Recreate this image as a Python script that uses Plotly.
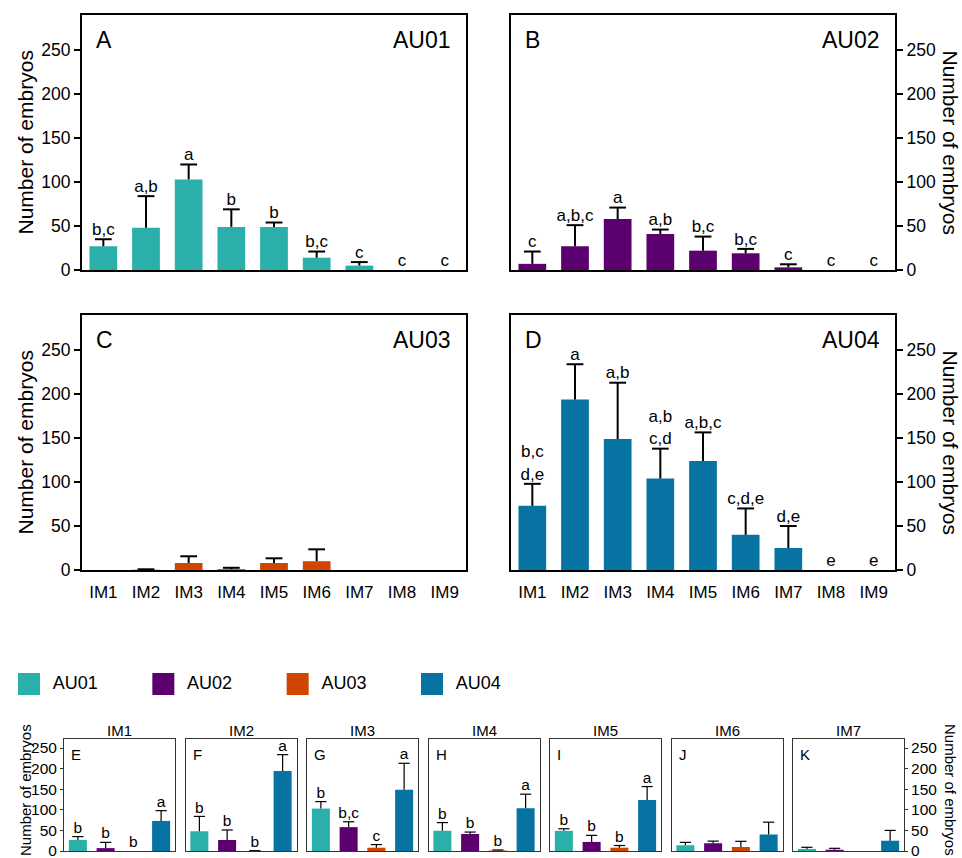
import plotly.graph_objects as go

# ---------------- data ----------------
ims = ["IM1", "IM2", "IM3", "IM4", "IM5", "IM6", "IM7", "IM8", "IM9"]
aus = ["AU01", "AU02", "AU03", "AU04"]

au01 = [27, 48, 103, 49, 49, 14, 5, 0, 0]
au01_err = [8, 36, 17, 20, 5, 7, 4, 0, 0]
au01_lab = ["b,c", "a,b", "a", "b", "b", "b,c", "c", "c", "c"]

au02 = [7, 27, 58, 41, 22, 19, 3, 0, 0]
au02_err = [14, 24, 13, 5, 16, 5, 3.5, 0, 0]
au02_lab = ["c", "a,b,c", "a", "a,b", "b,c", "b,c", "c", "c", "c"]

au03 = [0, 0.3, 8, 1, 8, 10, 0, 0, 0]
au03_err = [0, 0.5, 7.6, 1.5, 5.3, 13.5, 0, 0, 0]
au03_lab = ["", "", "", "", "", "", "", "", ""]

au04 = [73, 194, 149, 104, 124, 40, 25, 0, 0]
au04_err = [25, 40, 64, 34, 32.5, 30, 25, 0, 0]
au04_lab = ["b,c<br>d,e", "a", "a,b", "a,b<br>c,d", "a,b,c", "c,d,e", "d,e", "e", "e"]

bottom_ims = ["IM1", "IM2", "IM3", "IM4", "IM5", "IM6", "IM7"]
bottom_letters = ["E", "F", "G", "H", "I", "J", "K"]
bottom_labels = [
    ["b", "b", "b", "a"],
    ["b", "b", "b", "a"],
    ["b", "b,c", "c", "a"],
    ["b", "b", "b", "a"],
    ["b", "b", "b", "a"],
    ["", "", "", ""],
    ["", "", "", ""],
]

colors = {"AU01": "#2AAFAB", "AU02": "#5B006E", "AU03": "#D04500", "AU04": "#0673A3"}

# ---------------- layout helpers ----------------
W, H = 962, 858
FONT = "Liberation Sans, Arial, sans-serif"


def dx(l, r):
    return [l / W, r / W]


def dy(t, b):
    return [1 - b / H, 1 - t / H]


fig = go.Figure()
layout = dict(
    template="none",
    width=W, height=H, margin=dict(l=0, r=0, t=0, b=0, pad=0, autoexpand=False),
    paper_bgcolor="white", plot_bgcolor="white", showlegend=False,
    font=dict(family=FONT, color="black"), bargap=0.35,
)
annotations = []


def add_panel(i, cats, vals, errs, labs, cols, capw, lw, fsize):
    xa = "x" if i == 1 else f"x{i}"
    ya = "y" if i == 1 else f"y{i}"
    fig.add_trace(go.Bar(x=cats, y=vals, marker=dict(color=cols, line=dict(width=0)),
                         xaxis=xa, yaxis=ya, hoverinfo="skip"))
    lx, ly, cx, cy = [], [], [], []
    for c, v, e in zip(cats, vals, errs):
        if e > 0:
            lx += [c, c, None]
            ly += [v, v + e, None]
            cx.append(c)
            cy.append(v + e)
    fig.add_trace(go.Scatter(x=lx, y=ly, mode="lines", line=dict(color="black", width=lw),
                             xaxis=xa, yaxis=ya, cliponaxis=False, hoverinfo="skip"))
    fig.add_trace(go.Scatter(x=cx, y=cy, mode="markers",
                             marker=dict(symbol="line-ew", size=capw,
                                         line=dict(color="black", width=lw)),
                             xaxis=xa, yaxis=ya, cliponaxis=False, hoverinfo="skip"))
    tops = [v + e for v, e in zip(vals, errs)]
    fig.add_trace(go.Scatter(x=cats, y=tops, mode="text", text=labs, textposition="top center",
                             textfont=dict(size=fsize, family=FONT, color="black"),
                             xaxis=xa, yaxis=ya, cliponaxis=False, hoverinfo="skip"))


main_panels = [
    ("A", "AU01", au01, au01_err, au01_lab, 82, 466, 15, 270, "left", False),
    ("B", "AU02", au02, au02_err, au02_lab, 511, 895, 15, 270, "right", False),
    ("C", "AU03", au03, au03_err, au03_lab, 82, 466, 315, 570, "left", True),
    ("D", "AU04", au04, au04_err, au04_lab, 511, 895, 315, 570, "right", True),
]

for k, (let, name, vals, errs, labs, l, r, t, b, side, showx) in enumerate(main_panels):
    i = k + 1
    add_panel(i, ims, vals, errs, labs, colors[name], 12, 2, 17)
    xk = "xaxis" if i == 1 else f"xaxis{i}"
    yk = "yaxis" if i == 1 else f"yaxis{i}"
    ya = "y" if i == 1 else f"y{i}"
    xa = "x" if i == 1 else f"x{i}"
    layout[xk] = dict(domain=dx(l, r), anchor=ya, type="category", categoryorder="array",
                      categoryarray=ims, range=[-0.5, 8.5], showline=True, linecolor="black",
                      linewidth=2, mirror=True, ticks="", showticklabels=showx,
                      tickfont=dict(size=17), showgrid=False, zeroline=False,
                      ticklabelstandoff=6, automargin=False)
    layout[yk] = dict(domain=dy(t, b), anchor=xa, range=[0, 290],
                      tickvals=[0, 50, 100, 150, 200, 250], ticks="outside", ticklen=6,
                      tickwidth=2, tickcolor="black", showline=True, linecolor="black",
                      linewidth=2, mirror=True, side=side, showgrid=False, zeroline=False,
                      tickfont=dict(size=17.5), automargin=False)
    annotations.append(dict(xref=f"{xa} domain", yref=f"{ya} domain", x=12 / (r - l),
                            y=1 - 25 / (b - t), xanchor="left", yanchor="middle",
                            text=let, showarrow=False, font=dict(size=23)))
    annotations.append(dict(xref=f"{xa} domain", yref=f"{ya} domain", x=1 - 13 / (r - l),
                            y=1 - 25 / (b - t), xanchor="right", yanchor="middle",
                            text=name, showarrow=False, font=dict(size=23)))
    if side == "left":
        annotations.append(dict(xref="paper", yref="paper", x=25 / W, y=1 - (t + b) / 2 / H,
                                xanchor="center", yanchor="middle", textangle=-90,
                                text="Number of embryos", showarrow=False, font=dict(size=21)))
    else:
        annotations.append(dict(xref="paper", yref="paper", x=950 / W, y=1 - (t + b) / 2 / H,
                                xanchor="center", yanchor="middle", textangle=90,
                                text="Number of embryos", showarrow=False, font=dict(size=21)))

# bottom panels
bt, bb = 739, 851
for j, im in enumerate(bottom_ims):
    i = 5 + j
    idx = ims.index(im)
    vals = [au01[idx], au02[idx], au03[idx], au04[idx]]
    errs = [au01_err[idx], au02_err[idx], au03_err[idx], au04_err[idx]]
    cols = [colors[a] for a in aus]
    add_panel(i, aus, vals, errs, bottom_labels[j], cols, 8, 1.2, 15.5)
    l = 64 + j * 121.5
    r = l + 111
    xk, yk, xa, ya = f"xaxis{i}", f"yaxis{i}", f"x{i}", f"y{i}"
    layout[xk] = dict(domain=dx(l, r), anchor=ya, type="category", categoryorder="array",
                      categoryarray=aus, range=[-0.5, 3.5], showline=True, linecolor="#333333",
                      linewidth=1, mirror=True, ticks="", showticklabels=False,
                      showgrid=False, zeroline=False, automargin=False)
    yd = dict(domain=dy(bt, bb), anchor=xa, range=[0, 272], showline=True,
              linecolor="#333333", linewidth=1, mirror=True, showgrid=False, zeroline=False,
              tickvals=[0, 50, 100, 150, 200, 250], tickfont=dict(size=15.5), automargin=False,
              ticklabeloverflow="allow")
    if j == 0:
        yd.update(ticks="outside", ticklen=3, tickwidth=1, tickcolor="#333333", side="left",
                  showticklabels=True)
    elif j == len(bottom_ims) - 1:
        yd.update(ticks="outside", ticklen=3, tickwidth=1, tickcolor="#333333", side="right",
                  showticklabels=True)
    else:
        yd.update(ticks="", showticklabels=False)
    layout[yk] = yd
    annotations.append(dict(xref=f"{xa} domain", yref=f"{ya} domain", x=5 / 111,
                            y=1 - 15 / (bb - bt), xanchor="left", yanchor="middle",
                            text=bottom_letters[j], showarrow=False, font=dict(size=15)))
    annotations.append(dict(xref=f"{xa} domain", yref=f"{ya} domain", x=0.5, y=1,
                            xanchor="center", yanchor="bottom", yshift=-2,
                            text=im, showarrow=False, font=dict(size=15)))

annotations.append(dict(xref="paper", yref="paper", x=25 / W, y=1 - 790 / H,
                        xanchor="center", yanchor="middle", textangle=-90,
                        text="Number of embryos", showarrow=False, font=dict(size=15)))
annotations.append(dict(xref="paper", yref="paper", x=951 / W, y=1 - 790 / H,
                        xanchor="center", yanchor="middle", textangle=90,
                        text="Number of embryos", showarrow=False, font=dict(size=15)))

# legend row
li = 12
fig.add_trace(go.Scatter(x=aus, y=[0, 0, 0, 0], mode="markers+text",
                         text=["  " + a for a in aus], textposition="middle right",
                         textfont=dict(size=18, family=FONT, color="black"),
                         marker=dict(symbol="square", size=22, color=[colors[a] for a in aus],
                                     line=dict(width=0)),
                         xaxis=f"x{li}", yaxis=f"y{li}", cliponaxis=False, hoverinfo="skip"))
layout[f"xaxis{li}"] = dict(domain=dx(29, 432), anchor=f"y{li}", type="category",
                            categoryorder="array", categoryarray=aus, range=[0, 3],
                            visible=False)
layout[f"yaxis{li}"] = dict(domain=dy(672, 696), anchor=f"x{li}", range=[-1, 1], visible=False)

layout["annotations"] = annotations
fig.update_layout(**layout)
fig.write_html("out.html", config={"displayModeBar": False, "staticPlot": True},
               post_script="document.body.style.margin='0';document.body.style.overflow='hidden';")
